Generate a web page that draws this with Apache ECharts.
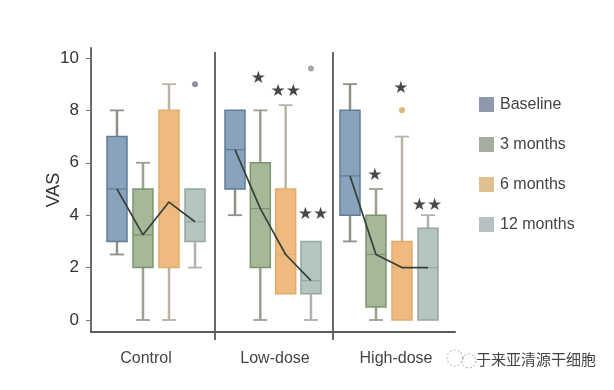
<!DOCTYPE html>
<html><head><meta charset="utf-8">
<style>html,body{margin:0;padding:0;background:#fff}#c{width:614px;height:390px}</style>
<script src="https://cdn.jsdelivr.net/npm/echarts@6/dist/echarts.min.js"></script>
</head><body><div id="c"></div>
<script>
const panels = ['Control', 'Low-dose', 'High-dose'];
const timepoints = ['Baseline', '3 months', '6 months', '12 months'];
const yTicks = [0, 2, 4, 6, 8, 10];
// each row: [whisker low, q1, median, q3, whisker high], one per panel
const baseline = [[2.5, 3, 5, 7, 8], [4, 5, 6.5, 8, 8], [3, 4, 5.5, 8, 9]];
const months3 = [[0, 2, 3.25, 5, 6], [0, 2, 4.25, 6, 8], [0, 0.5, 2.5, 4, 5]];
const months6 = [[0, 2, 4.5, 8, 9], [1, 1, 2.5, 5, 8.2], [0, 0, 2, 3, 7]];
const months12 = [[2, 3, 3.75, 5, 5], [0, 1, 1.5, 3, 3], [0, 0, 2, 3.5, 4]];
const trendControl = [5, 3.25, 4.5, 3.75];
const trendLow = [6.5, 4.25, 2.5, 1.5];
const trendHigh = [5.5, 2.5, 2, 2];
// [panel, slot, value]
const outliers = [[0, 4, 9], [1, 4, 9.6], [2, 3, 8]];
// [panel, slot, height, label]
const stars = [[1, 1.92, 9.2, '★'], [1, 3, 8.72, '★★'], [1, 4.08, 4.02, '★★'], [2, 1.96, 5.5, '★'], [2, 2.96, 8.85, '★'], [2, 3.96, 4.38, '★★']];

const groups = [baseline, months3, months6, months12];
const trends = [trendControl, trendLow, trendHigh];
const fills = ['#8aa3bd', '#a5b897', '#f0ba7e', '#b4c5bf'];
const borders = ['#5f7c99', '#7f9370', '#e3ac6e', '#93a7a3'];
const whiskers = ['#8f9088', '#9d9e92', '#b9b4a4', '#aeb3ae'];
const legendFills = ['#8e99ab', '#a4ad9f', '#e0c08f', '#b7c0c2'];
const outlierColors = ['#6f7784', '#87949a', '#d6a052'];
const rects = [[91, 124, 0, 4.77], [215, 118, 0.21, 4.87], [333, 122, 0.346, 5.04]];
const gridTop = 48, gridHeight = 284, yMin = -0.458, yMax = 10.38;

const grid = rects.map(r => ({left: r[0], width: r[1], top: gridTop, height: gridHeight, containLabel: false}));
const xAxis = rects.map((r, i) => ({
  type: 'value', gridIndex: i, min: r[2], max: r[3],
  splitLine: {show: false}, axisTick: {show: false}, axisLabel: {show: false},
  axisLine: {show: true, onZero: false, lineStyle: {color: '#5c5c5c', width: 2}}
}));
const yAxis = rects.map((r, i) => ({
  type: 'value', gridIndex: i, min: yMin, max: yMax, show: i === 0,
  name: i === 0 ? 'VAS' : '', nameLocation: 'middle', nameGap: 28, nameMoveOverlap: false,
  nameTextStyle: {fontFamily: 'Liberation Sans', fontSize: 18, color: '#333'},
  splitLine: {show: false},
  axisLine: {show: true, lineStyle: {color: '#6a6a6a', width: 2}},
  axisTick: {show: true, length: 5, customValues: yTicks, lineStyle: {color: '#777', width: 1}},
  axisLabel: {show: true, customValues: yTicks, fontFamily: 'Liberation Sans', fontSize: 17, color: '#333', margin: 12}
}));

function boxRender(t) {
  return function (params, api) {
    const x = api.value(0);
    const p = [1, 2, 3, 4, 5].map(k => api.coord([x, api.value(k)]));
    const cx = p[0][0], hw = 10, cap = 7;
    const wl = {stroke: whiskers[t], lineWidth: 2.5};
    const cl = {stroke: whiskers[t], lineWidth: 1.8};
    const kids = [];
    if (api.value(1) < api.value(2)) {
      kids.push({type: 'line', shape: {x1: cx, y1: p[0][1], x2: cx, y2: p[1][1]}, style: wl});
      kids.push({type: 'line', shape: {x1: cx - cap, y1: p[0][1], x2: cx + cap, y2: p[0][1]}, style: cl});
    }
    if (api.value(5) > api.value(4)) {
      kids.push({type: 'line', shape: {x1: cx, y1: p[4][1], x2: cx, y2: p[3][1]}, style: wl});
      kids.push({type: 'line', shape: {x1: cx - cap, y1: p[4][1], x2: cx + cap, y2: p[4][1]}, style: cl});
    }
    kids.push({type: 'rect', shape: {x: cx - hw, y: p[3][1], width: hw * 2, height: p[1][1] - p[3][1]},
      style: {fill: fills[t], stroke: borders[t], lineWidth: 1.5}});
    kids.push({type: 'line', shape: {x1: cx - hw, y1: p[2][1], x2: cx + hw, y2: p[2][1]},
      style: {stroke: borders[t], lineWidth: 1.2}});
    return {type: 'group', children: kids};
  };
}

const series = [];
groups.forEach((g, t) => g.forEach((row, pi) => {
  series.push({
    type: 'custom', name: timepoints[t], xAxisIndex: pi, yAxisIndex: pi,
    renderItem: boxRender(t), itemStyle: {color: fills[t]},
    encode: {x: 0, y: [1, 2, 3, 4, 5]},
    data: [[t + 1].concat(row)], silent: true, z: 2
  });
}));
trends.forEach((tr, pi) => series.push({
  type: 'line', xAxisIndex: pi, yAxisIndex: pi, showSymbol: false, silent: true, z: 5,
  lineStyle: {color: '#34423a', width: 1.7},
  data: tr.map((v, i) => [i + 1, v])
}));
outliers.forEach(o => series.push({
  type: 'scatter', xAxisIndex: o[0], yAxisIndex: o[0], symbolSize: 6, silent: true, z: 5,
  itemStyle: {color: outlierColors[o[0]]}, data: [[o[1], o[2]]]
}));
stars.forEach(s => series.push({
  type: 'scatter', xAxisIndex: s[0], yAxisIndex: s[0], symbol: 'circle', symbolSize: 1, silent: true, z: 6,
  itemStyle: {color: 'rgba(0,0,0,0)'},
  label: {show: true, position: 'inside', formatter: s[3], fontFamily: 'DejaVu Sans', fontSize: 17, color: '#1a1a1a'},
  data: [[s[1], s[2]]]
}));

const graphic = [
  {type: 'line', shape: {x1: 215, y1: 52, x2: 215, y2: 340}, style: {stroke: '#6a6a6a', lineWidth: 2}},
  {type: 'line', shape: {x1: 333, y1: 52, x2: 333, y2: 340}, style: {stroke: '#6a6a6a', lineWidth: 2}},
  {type: 'circle', shape: {cx: 455, cy: 358, r: 8}, style: {fill: 'none', stroke: '#aaa', lineWidth: 1, lineDash: [2, 2]}},
  {type: 'circle', shape: {cx: 469, cy: 361, r: 7}, style: {fill: 'none', stroke: '#aaa', lineWidth: 1, lineDash: [2, 2]}}
];
[146, 275, 396].forEach((x, i) => graphic.push({type: 'text', x, y: 359,
  style: {text: panels[i], fontFamily: 'Liberation Sans', fontSize: 16, fill: '#444', align: 'center', verticalAlign: 'middle'}}));
graphic.push({type: 'text', x: 536, y: 359, style: {text: '于来亚清源干细胞', fontFamily: 'Noto Sans CJK SC', fontSize: 15,
  fill: '#444', stroke: '#fff', lineWidth: 2, align: 'center', verticalAlign: 'middle'}});

const chart = echarts.init(document.getElementById('c'), null, {renderer: 'canvas'});
chart.setOption({
  animation: false, backgroundColor: '#fff', grid, xAxis, yAxis, series, graphic,
  legend: {
    orient: 'vertical', left: 474, top: 91.5, itemWidth: 15, itemHeight: 15, itemGap: 24, itemStyle: {borderWidth: 0},
    textStyle: {fontFamily: 'Liberation Sans', fontSize: 16, color: '#444', padding: [0, 0, 0, 1]},
    data: timepoints.map((n, i) => ({name: n, icon: 'rect', itemStyle: {color: legendFills[i]}}))
  }
});
</script></body></html>
